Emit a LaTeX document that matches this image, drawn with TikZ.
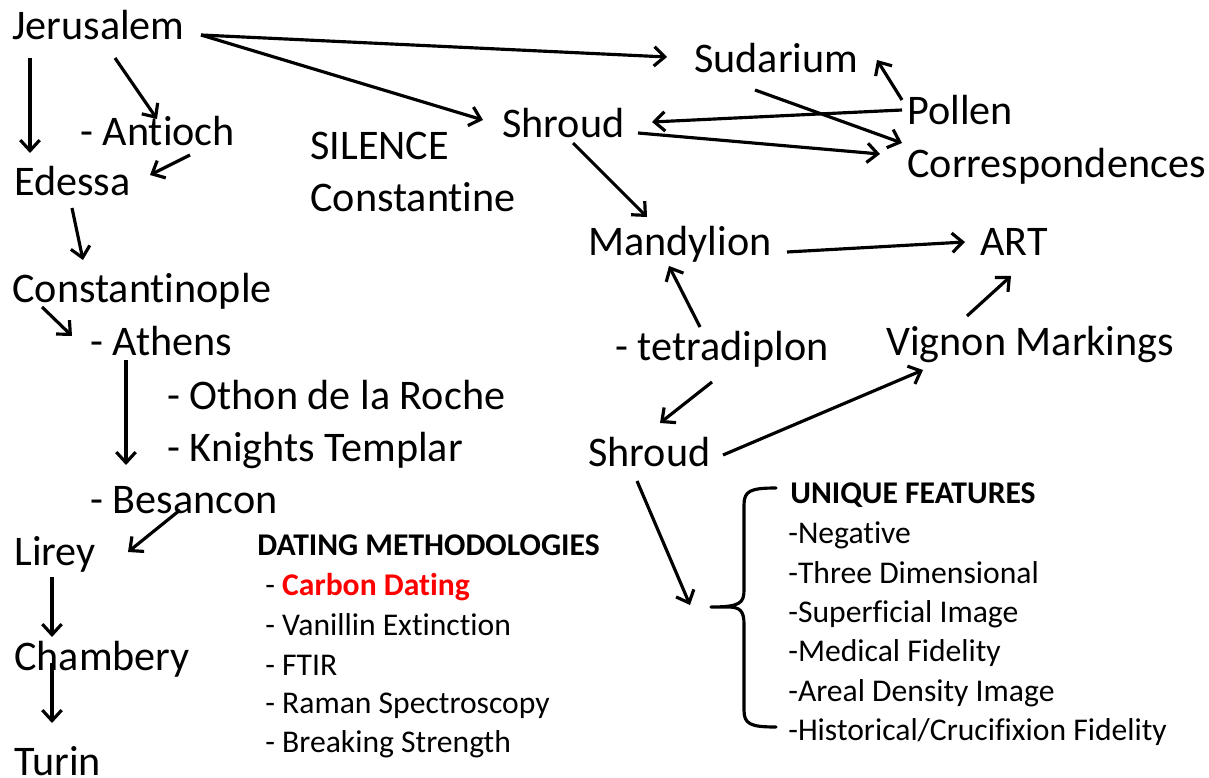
\documentclass[tikz,border=0pt]{standalone}
\usepackage{fontspec}
\setmainfont{Carlito}[Ligatures=NoCommon]
\usepackage{xcolor}
\usetikzlibrary{calc,arrows.meta}
\definecolor{hot}{HTML}{FF0000}

\begin{document}
\begin{tikzpicture}[x=0.02cm, y=-0.02cm,
    place/.style={font=\fontsize{24}{28}\selectfont, inner sep=0pt, anchor=base west},
    item/.style={font=\fontsize{18}{22}\selectfont, inner sep=0pt, anchor=base west},
    arrow/.style={-{Straight Barb[length=6pt,width=11pt]}, line width=1.8pt},
    brace/.style={line width=1.8pt, line cap=round}
  ]
    \useasboundingbox (0,0) rectangle (1209,777);

    % left column
    \node[place] (jer) at (12,40) {Jerusalem};
    \node[place] (ant) at (80,145) {- Antioch};
    \node[place] (ede) at (14,195) {Edessa};
    \node[place] (con) at (12,302) {Constantinople};
    \node[place] (ath) at (90,355) {- Athens};
    \node[place] (oth) at (167,409) {- Othon de la Roche};
    \node[place] (kni) at (167,461) {- Knights Templar};
    \node[place] (bes) at (90,513) {- Besancon};
    \node[place] (lir) at (14,565) {Lirey};
    \node[place] (cha) at (14,670) {Chambery};
    \node[place] (tur) at (14,775) {Turin};
    \node[place] (sil) at (310,159) {SILENCE};
    \node[place] (cst) at (310,211) {Constantine};

    % right part
    \node[place] (shr1) at (502,137) {Shroud};
    \node[place] (sud) at (694,72) {Sudarium};
    \node[place] (pol) at (907,124) {Pollen};
    \node[place] (cor) at (907,177) {Correspondences};
    \node[place] (man) at (588,255) {Mandylion};
    \node[place] (art) at (980,255) {ART};
    \node[place] (tet) at (615,360) {- tetradiplon};
    \node[place] (vig) at (886,355) {Vignon Markings};
    \node[place] (shr2) at (588,466) {Shroud};

    % dating list
    \node[item, font=\fontsize{18}{22}\selectfont\bfseries] (dat) at (257,555) {DATING METHODOLOGIES};
    \node[item] (d1) at (265,595) {- \textbf{\color{hot}Carbon Dating}};
    \node[item] (d2) at (265,635) {- Vanillin Extinction};
    \node[item] (d3) at (265,675) {- FTIR};
    \node[item] (d4) at (265,713) {- Raman Spectroscopy};
    \node[item] (d5) at (265,752) {- Breaking Strength};

    % features list
    \node[item, font=\fontsize{18}{22}\selectfont\bfseries] (uni) at (790,503) {UNIQUE FEATURES};
    \node[item] (u1) at (788,543) {-Negative};
    \node[item] (u2) at (788,583) {-Three Dimensional};
    \node[item] (u3) at (788,622) {-Superficial Image};
    \node[item] (u4) at (788,661) {-Medical Fidelity};
    \node[item] (u5) at (788,701) {-Areal Density Image};
    \node[item] (u6) at (788,740) {-Historical/Crucifixion Fidelity};

    \coordinate (cusp) at (711,607);
    \draw[brace] (776,488) .. controls (750,488) and (744,491) .. (744,505)
        -- (744,590) .. controls (744,603) and (740,607) .. (cusp)
        (cusp) -- (728,607) .. controls (740,607) and (744,611) .. (744,624)
        -- (744,710) .. controls (744,724) and (750,727) .. (776,727);

    \draw[arrow] ($(jer.base west)+(189,-5)$) -- ($(sud.base west)+(-27,-15)$);
    \draw[arrow] ($(jer.base west)+(189,-5)$) -- ($(shr1.base west)+(-19,-17)$);
    \draw[arrow] ($(jer.base west)+(18,18)$) -- ($(ede.base west)+(16,-42)$);
    \draw[arrow] ($(jer.base west)+(103,18)$) -- ($(ant.base west)+(77,-26)$);
    \draw[arrow] ($(ant.base west)+(110,10)$) -- ($(ede.base west)+(136,-20)$);
    \draw[arrow] ($(ede.base west)+(58,13)$) -- ($(con.base west)+(71,-42)$);
    \draw[arrow] ($(con.base west)+(30,5)$) -- ($(ath.base west)+(-18,-19)$);
    \draw[arrow] ($(ath.base west)+(36,5)$) -- ($(bes.base west)+(36,-48)$);
    \draw[arrow] ($(bes.base west)+(90,-3)$) -- ($(lir.base west)+(114,-13)$);
    \draw[arrow] ($(lir.base west)+(38,12)$) -- ($(cha.base west)+(38,-33)$);
    \draw[arrow] ($(cha.base west)+(38,-7)$) -- ($(tur.base west)+(38,-52)$);

    \draw[arrow] ($(pol.base west)+(-5,-24)$) -- ($(sud.base west)+(183,-12)$);
    \draw[arrow] ($(pol.base west)+(-5,-14)$) -- ($(shr1.base west)+(150,-15)$);
    \draw[arrow] ($(sud.base west)+(61,18)$) -- ($(cor.base west)+(-5,-34)$);
    \draw[arrow] ($(shr1.base west)+(136,-4)$) -- ($(cor.base west)+(-27,-23)$);
    \draw[arrow] ($(shr1.base west)+(71,6)$) -- ($(man.base west)+(59,-38)$);
    \draw[arrow] ($(man.base west)+(199,-3)$) -- ($(art.base west)+(-15,-13)$);
    \draw[arrow] ($(tet.base west)+(85,-33)$) -- ($(man.base west)+(81,11)$);
    \draw[arrow] ($(vig.base west)+(81,-39)$) -- ($(art.base west)+(31,21)$);
    \draw[arrow] ($(tet.base west)+(97,22)$) -- ($(shr2.base west)+(72,-43)$);
    \draw[arrow] ($(shr2.base west)+(135,-11)$) -- ($(vig.base west)+(37,15)$);
    \draw[arrow] ($(shr2.base west)+(49,15)$) -- ($(cusp)+(-21,-2)$);
  \end{tikzpicture}
\end{document}
